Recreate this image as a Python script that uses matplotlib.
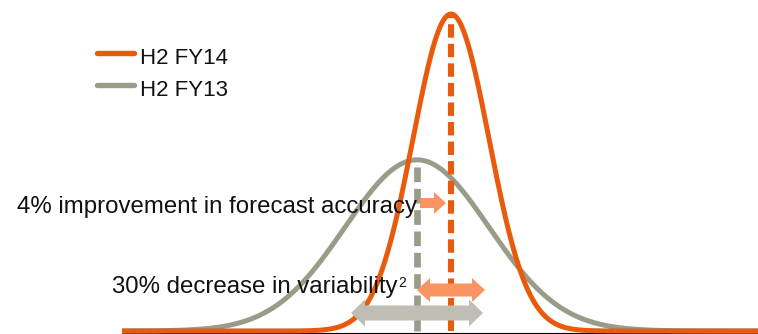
import numpy as np
import matplotlib
matplotlib.use("Agg")
import matplotlib.pyplot as plt
from matplotlib.patches import FancyArrow

plt.rcParams["font.family"] = ["Liberation Sans", "DejaVu Sans"]

# distribution parameters (x in chart units, height relative to FY14 peak)
series = ["H2 FY14", "H2 FY13"]
means = [451, 417]
sigmas = [38, 72]
peaks = [1.0, 0.54]
spreads = [34, 66]          # half-width of the variability arrows
x_range = [122, 758]

colors = ["#E95A0C", "#9B9B8A"]
arrow_colors = ["#FA9563", "#BEBEB4"]

improvement_text = "4% improvement in forecast accuracy"
variability_text = "30% decrease in variability"

# pixel height of one data unit on the y axis
PX = 317.0

fig = plt.figure(figsize=(7.58, 3.34), dpi=100)
ax = fig.add_axes([0, 0, 1, 1])
ax.set_xlim(0, 758)
ax.set_ylim(-3 / PX, 331 / PX)
ax.axis("off")

x = np.linspace(x_range[0], x_range[1], 800)

# baseline
ax.plot(x_range, [-1.5 / PX, -1.5 / PX], color="black", lw=0.8, zorder=1)

# curves: FY13 below FY14
for i in [1, 0]:
    y = peaks[i] * np.exp(-0.5 * ((x - means[i]) / sigmas[i]) ** 2)
    ax.plot(x, y, color=colors[i], lw=3.6, solid_capstyle="butt",
            zorder=3 if i == 0 else 2)

# dashed mean markers
for i in [1, 0]:
    ax.plot([means[i], means[i]], [0, peaks[i]], color=colors[i],
            lw=4.4 if i == 0 else 4.8, dashes=(2.2, 1.0),
            zorder=4 if i == 0 else 2.5)


def block_arrow(x0, x1, yc, shaft, head, head_len, color):
    ax.add_patch(FancyArrow(x0, yc, x1 - x0, 0, width=shaft / PX,
                            head_width=head / PX, head_length=head_len,
                            length_includes_head=True, color=color,
                            lw=0, zorder=5))


# improvement arrow: from FY13 mean to FY14 mean
block_arrow(means[1] + 3, means[0] - 5, 128 / PX, 10, 22, 12, arrow_colors[0])

# variability arrows (double-headed), FY14 above FY13
var_y = [41 / PX, 18 / PX]
var_dims = [(13, 24, 13), (15, 27, 14)]
for i in range(2):
    shaft, head, hl = var_dims[i]
    block_arrow(means[i], means[i] + spreads[i], var_y[i], shaft, head, hl, arrow_colors[i])
    block_arrow(means[i], means[i] - spreads[i], var_y[i], shaft, head, hl, arrow_colors[i])

# annotations
ax.text(417, 118 / PX, improvement_text, ha="right", va="baseline",
        fontsize=17.3, color="#111111", zorder=6)
ax.text(397, 38 / PX, variability_text, ha="right", va="baseline",
        fontsize=17.3, color="#111111", zorder=6)
ax.text(398.5, 44 / PX, "2", ha="left", va="baseline",
        fontsize=10, color="#111111", zorder=6)

# legend
leg_y = [52.7, 85.0]
for i in range(2):
    yy = 1 - leg_y[i] / 334
    ax.plot([97 / 758, 134 / 758], [yy, yy], transform=ax.transAxes,
            color=colors[i], lw=3.9, solid_capstyle="round", zorder=6)
    ax.text(140 / 758, 1 - (leg_y[i] + 11.5) / 334, series[i],
            transform=ax.transAxes, ha="left", va="baseline",
            fontsize=16, color="#111111")

fig.savefig("out.png", dpi=100)
